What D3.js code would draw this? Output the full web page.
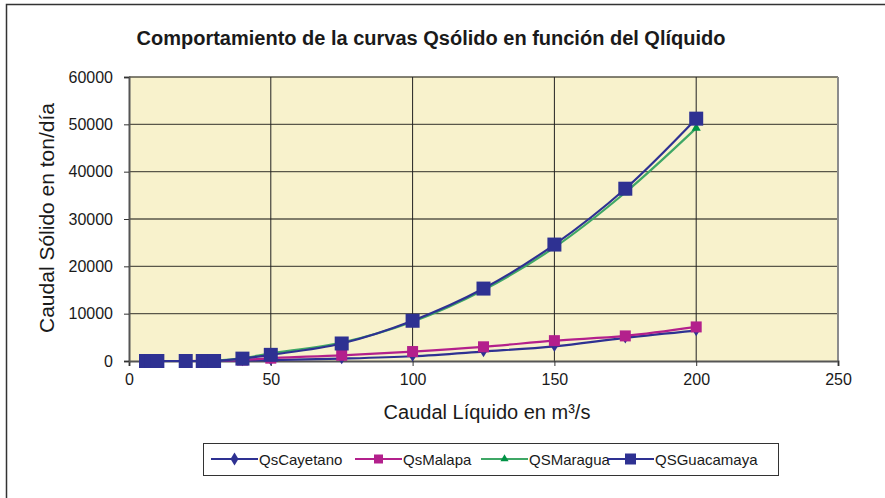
<!DOCTYPE html>
<html>
<head>
<meta charset="utf-8">
<script src="https://cdn.jsdelivr.net/npm/d3@7"></script>
<style>
body { margin: 0; background: #fff; }
text { font-family: "Liberation Sans", Arial, sans-serif; fill: #1a1a1a; }
</style>
</head>
<body>
<div id="chart"></div>
<script>
var width = 885;
var height = 498;

// data
var caudal = [6, 8, 10, 20, 26, 28, 30, 40, 50, 75, 100, 125, 150, 175, 200];
var qsCayetano  = [0, 0, 0, 0, 0, 0, 0, 100, 200, 500, 1000, 2000, 3100, 4900, 6400];
var qsMalapa    = [0, 0, 0, 0, 50, 80, 100, 200, 600, 1200, 2000, 3000, 4300, 5300, 7200];
var qsMaragua   = [0, 0, 0, 0, 0, 0, 50, 600, 1600, 3900, 8300, 15000, 24000, 35600, 49200];
var qsGuacamaya = [0, 0, 0, 0, 0, 0, 0, 500, 1300, 3700, 8500, 15300, 24600, 36400, 51200];
var seriesNames = ["QsCayetano", "QsMalapa", "QSMaragua", "QSGuacamaya"];
var xTicks = [0, 50, 100, 150, 200, 250];
var yTicks = [0, 10000, 20000, 30000, 40000, 50000, 60000];

var series = [
  {name: seriesNames[0], values: qsCayetano,  line: "#2e3192", mark: "#2e3192", shape: "diamond",  size: 7},
  {name: seriesNames[1], values: qsMalapa,    line: "#b3208c", mark: "#b3208c", shape: "square",   size: 11},
  {name: seriesNames[2], values: qsMaragua,   line: "#3fa766", mark: "#009245", shape: "triangle", size: 9},
  {name: seriesNames[3], values: qsGuacamaya, line: "#2e3192", mark: "#2e3192", shape: "square",   size: 14}
];

var svg = d3.select("#chart").append("svg")
    .attr("width", width)
    .attr("height", height);

// outer chart frame
svg.append("rect")
  .attr("x", 6.5).attr("y", 4.5)
  .attr("width", 900).attr("height", 520)
  .attr("fill", "none")
  .attr("stroke", "#333")
  .attr("stroke-width", 1.5);

var plot = {left: 129, right: 838, top: 77, bottom: 361};

var x = d3.scaleLinear().domain([0, 250]).range([plot.left, plot.right]);
var y = d3.scaleLinear().domain([0, 60000]).range([plot.bottom, plot.top]);

svg.append("rect")
  .attr("x", plot.left).attr("y", plot.top)
  .attr("width", plot.right - plot.left).attr("height", plot.bottom - plot.top)
  .attr("fill", "#f8f2cc");

// gridlines
svg.append("g").selectAll("line").data(yTicks.slice(1))
  .join("line")
  .attr("x1", plot.left).attr("x2", plot.right)
  .attr("y1", function(d) { return y(d); }).attr("y2", function(d) { return y(d); })
  .attr("stroke", "#5a574a").attr("stroke-width", 1.3);

svg.append("g").selectAll("line").data(xTicks.slice(1))
  .join("line")
  .attr("x1", function(d) { return x(d); }).attr("x2", function(d) { return x(d); })
  .attr("y1", plot.top).attr("y2", plot.bottom)
  .attr("stroke", function(d) { return d == 250 ? "#8c8c8c" : "#222"; })
  .attr("stroke-width", function(d) { return d == 250 ? 2 : 1; });

// axes
var xAxis = svg.append("g")
  .attr("transform", "translate(0," + plot.bottom + ")")
  .call(d3.axisBottom(x).tickValues(xTicks).tickSize(5).tickPadding(8));
var yAxis = svg.append("g")
  .attr("transform", "translate(" + plot.left + ",0)")
  .call(d3.axisLeft(y).tickValues(yTicks).tickSize(5).tickPadding(11).tickFormat(d3.format("d")));
[xAxis, yAxis].forEach(function(a) {
  a.select(".domain").attr("stroke", "#555").attr("stroke-width", 2);
  a.selectAll(".tick line").attr("stroke", "#333");
  a.selectAll("text").attr("font-size", 16).attr("fill", "#1a1a1a")
    .attr("font-family", "Liberation Sans, Arial, sans-serif");
});

function symbolPath(shape, size) {
  if (shape == "square") return d3.symbol(d3.symbolSquare, size * size)();
  if (shape == "triangle") return d3.symbol(d3.symbolTriangle, size * size * 0.45)();
  return "M0," + (-size * 0.8) + "L" + (size * 0.5) + ",0L0," + (size * 0.8) + "L" + (-size * 0.5) + ",0Z";
}

var line = d3.line()
  .x(function(d, i) { return x(caudal[i]); })
  .y(function(d) { return y(d); })
  .curve(d3.curveCatmullRom.alpha(0.5));

series.forEach(function(s) {
  svg.append("path")
    .attr("d", line(s.values))
    .attr("fill", "none")
    .attr("stroke", s.line)
    .attr("stroke-width", 2.2);
  svg.append("g").selectAll("path").data(s.values)
    .join("path")
    .attr("transform", function(d, i) { return "translate(" + x(caudal[i]) + "," + y(d) + ")"; })
    .attr("d", symbolPath(s.shape, s.size))
    .attr("fill", s.mark);
});

// titles
svg.append("text")
  .text("Comportamiento de la curvas Qsólido en función del Qlíquido")
  .attr("x", 431).attr("y", 45)
  .attr("text-anchor", "middle")
  .attr("font-size", 20)
  .attr("font-weight", "bold");

svg.append("text")
  .text("Caudal Líquido en m³/s")
  .attr("x", 487).attr("y", 419)
  .attr("text-anchor", "middle")
  .attr("font-size", 20);

svg.append("text")
  .text("Caudal Sólido en ton/día")
  .attr("transform", "translate(54,218) rotate(-90)")
  .attr("text-anchor", "middle")
  .attr("font-size", 21);

// legend
svg.append("rect")
  .attr("x", 203.5).attr("y", 443.5)
  .attr("width", 575).attr("height", 32)
  .attr("fill", "#fff")
  .attr("stroke", "#333")
  .attr("stroke-width", 1);

var legendX = [211, 355, 481, 607];
series.forEach(function(s, i) {
  var g = svg.append("g").attr("transform", "translate(" + legendX[i] + ",459)");
  g.append("line").attr("x1", 0).attr("x2", 47).attr("stroke", s.line).attr("stroke-width", 2.2);
  g.append("path").attr("transform", "translate(23.5,0)")
    .attr("d", symbolPath(s.shape, s.shape == "square" ? (i == 3 ? 11 : 9) : 8))
    .attr("fill", s.mark);
  g.append("text").text(s.name).attr("x", 48).attr("y", 5.5).attr("font-size", 15);
});
</script>
</body>
</html>
